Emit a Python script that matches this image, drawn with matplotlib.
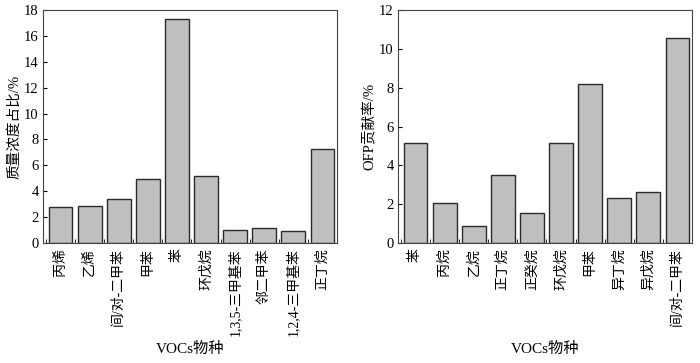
import numpy as np
import matplotlib
matplotlib.use("Agg")
import matplotlib.pyplot as plt

plt.rcParams['font.family'] = ['Liberation Serif', 'Noto Sans CJK SC']
plt.rcParams['font.size'] = 10
plt.rcParams['axes.unicode_minus'] = False

# left panel: mass concentration share
mass_species = ["丙烯", "乙烯", "间/对-二甲苯", "甲苯", "苯", "环戊烷",
                "1,3,5-三甲基苯", "邻二甲苯", "1,2,4-三甲基苯", "正丁烷"]
mass_share = [2.75, 2.85, 3.42, 4.94, 17.33, 5.17, 0.98, 1.13, 0.93, 7.3]

# right panel: OFP contribution
ofp_species = ["苯", "丙烷", "乙烷", "正丁烷", "正癸烷", "环戊烷",
               "甲苯", "异丁烷", "异戊烷", "间/对-二甲苯"]
ofp_share = [5.13, 2.06, 0.86, 3.48, 1.53, 5.13, 8.18, 2.33, 2.61, 10.54]


# _______________________________________________________________________________
def barPanel(ax, labels, values, ymax, ylabel):
    x = np.arange(len(values))
    ax.bar(x, values, width=0.82, color="#c0c0c0", edgecolor="#2a2a2a",
           linewidth=1.0)
    ax.set_xlim(-0.6, len(values) - 0.6)
    ax.set_ylim(0, ymax)
    ax.set_yticks(np.arange(0, ymax + 1, 2))
    ax.set_xticks(x)
    ax.set_xticklabels(labels, rotation=90)
    ax.set_xticks(np.arange(len(values) + 1) - 0.5, minor=True)
    ax.tick_params(axis="x", which="major", length=0, pad=4)
    ax.tick_params(axis="x", which="minor", direction="in", length=3)
    ax.tick_params(axis="y", direction="in", length=3, labelsize=10.5, pad=3)
    # both x titles sit at the same height, below the longest label
    ax.set_xlabel("VOCs物种", fontsize=11, va="center")
    ax.xaxis.set_label_coords(0.5, -0.455)
    ax.set_ylabel(ylabel, fontsize=10.5, va="center")
    ax.yaxis.set_label_coords(-0.097, 0.5)
    for s in ax.spines.values():
        s.set_color("#444444")


fig = plt.figure(figsize=(7.0, 3.63), dpi=100)
ax1 = fig.add_axes([43 / 700, 1 - 243 / 363, 294 / 700, 233 / 363])
ax2 = fig.add_axes([398 / 700, 1 - 243 / 363, 294 / 700, 233 / 363])

barPanel(ax1, mass_species, mass_share, 18, "质量浓度占比/%")
barPanel(ax2, ofp_species, ofp_share, 12, "OFP贡献率/%")

fig.savefig("out.png", dpi=100)
